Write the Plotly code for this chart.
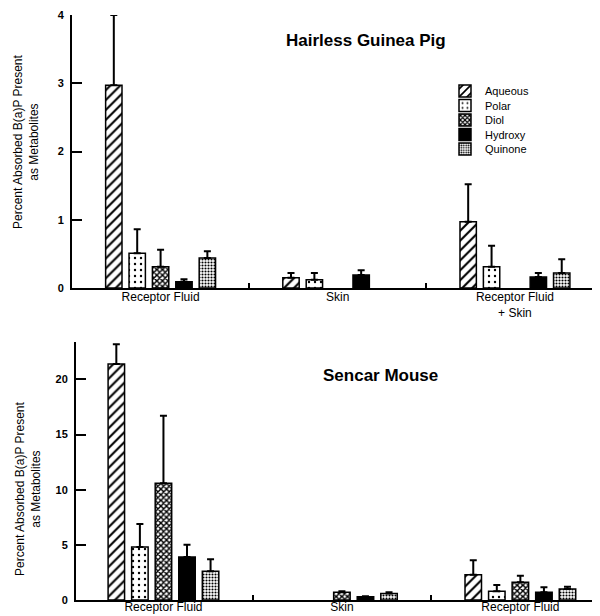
import plotly.graph_objects as go

# ---- data ----
categories = ["Receptor Fluid", "Skin", "Receptor Fluid<br>+ Skin"]
bottom_tick_labels = ["Receptor Fluid", "Skin", "Receptor Fluid"]
series_names = ["Aqueous", "Polar", "Diol", "Hydroxy", "Quinone"]

# Hairless Guinea Pig (mean, upper error)
gp_aqueous = [2.97, 0.15, 0.97]
gp_aqueous_sd = [1.03, 0.07, 0.55]
gp_polar = [0.51, 0.12, 0.31]
gp_polar_sd = [0.35, 0.10, 0.31]
gp_diol = [0.31, None, None]
gp_diol_sd = [0.25, 0, 0]
gp_hydroxy = [0.09, 0.19, 0.16]
gp_hydroxy_sd = [0.04, 0.07, 0.06]
gp_quinone = [0.44, None, 0.22]
gp_quinone_sd = [0.10, 0, 0.20]

# Sencar Mouse
m_aqueous = [21.4, None, 2.3]
m_aqueous_sd = [1.8, 0, 1.3]
m_polar = [4.8, None, 0.8]
m_polar_sd = [2.1, 0, 0.55]
m_diol = [10.6, 0.7, 1.6]
m_diol_sd = [6.1, 0.1, 0.6]
m_hydroxy = [3.9, 0.3, 0.7]
m_hydroxy_sd = [1.1, 0.05, 0.45]
m_quinone = [2.6, 0.6, 1.0]
m_quinone_sd = [1.1, 0.1, 0.2]

top_ticks = [0, 1, 2, 3, 4]
bottom_ticks = [0, 5, 10, 15, 20]

gp_vals = [gp_aqueous, gp_polar, gp_diol, gp_hydroxy, gp_quinone]
gp_sds = [gp_aqueous_sd, gp_polar_sd, gp_diol_sd, gp_hydroxy_sd, gp_quinone_sd]
m_vals = [m_aqueous, m_polar, m_diol, m_hydroxy, m_quinone]
m_sds = [m_aqueous_sd, m_polar_sd, m_diol_sd, m_hydroxy_sd, m_quinone_sd]

patterns = [
    dict(shape="/", size=7, solidity=0.3),
    dict(shape=".", size=6, solidity=0.12),
    dict(shape="x", size=4, solidity=0.6),
    None,
    dict(shape=".", size=3, solidity=0.4),
]

# page has an 8px body margin: work in a 592x608 figure
W, H, OFF = 592, 608, 8
def px(x):
    return (x - OFF) / W
def py(y):
    return (H + OFF - y) / H

legend_ids = ["legend", "legend2", "legend3", "legend4", "legend5"]
legend_centers = [91, 105.5, 120, 134.5, 149]

fig = go.Figure()

def add(vals, sds, xa, ya, show):
    for name, v, s, p, lid in zip(series_names, vals, sds, patterns, legend_ids):
        if p is None:
            marker = dict(color="black", line=dict(color="black", width=1.5))
        else:
            marker = dict(color="white", line=dict(color="black", width=1.5),
                          pattern=dict(fgcolor="black", bgcolor="white",
                                       fillmode="replace", **p))
        fig.add_trace(go.Bar(
            x=categories, y=v, name=name, marker=marker, cliponaxis=False,
            xaxis=xa, yaxis=ya, legendgroup=name, showlegend=show, legend=lid,
            error_y=dict(type="data", symmetric=False, array=s,
                         arrayminus=[0] * len(s), color="black",
                         thickness=2, width=3.5),
        ))

add(gp_vals, gp_sds, "x", "y", True)
add(m_vals, m_sds, "x2", "y2", False)

axis_common = dict(showline=True, linecolor="black", linewidth=2,
                   showgrid=False, zeroline=False, mirror=False)

layout = dict(
    width=W, height=H,
    margin=dict(l=0, r=0, t=0, b=0),
    paper_bgcolor="white", plot_bgcolor="white",
    barmode="group", bargap=0.34, bargroupgap=0.3,
    font=dict(family="Liberation Sans, Arial, sans-serif", color="black"),
    xaxis=dict(domain=[px(72), px(600)], range=[-0.5, 2.48], anchor="y",
               type="category", tickson="boundaries", ticks="inside",
               ticklen=5, tickwidth=2, tickcolor="black", ticklabelstandoff=-3,
               tickfont=dict(size=12), automargin=False, **axis_common),
    yaxis=dict(domain=[py(288), py(15)], range=[0, 4], anchor="x",
               tickvals=top_ticks, ticks="inside", ticklen=10, tickwidth=2,
               tickcolor="black", tickfont=dict(size=11, weight="bold"),
               ticklabelstandoff=4, automargin=False, **axis_common),
    xaxis2=dict(domain=[px(76), px(598)], range=[-0.49, 2.435], anchor="y2",
                type="category", tickson="boundaries", ticks="inside",
                tickmode="array", tickvals=categories, ticktext=bottom_tick_labels,
                ticklen=5, tickwidth=2, tickcolor="black", ticklabelstandoff=-5,
                tickfont=dict(size=12), automargin=False, **axis_common),
    yaxis2=dict(domain=[py(600), py(342)], range=[0, 23.4], anchor="x2",
                tickvals=bottom_ticks, ticks="inside", ticklen=10, tickwidth=2,
                tickcolor="black", tickfont=dict(size=11, weight="bold"),
                ticklabelstandoff=4, automargin=False, **axis_common),
)
for lid, yc in zip(legend_ids, legend_centers):
    layout[lid] = dict(x=px(445), y=py(yc), xanchor="left", yanchor="middle",
                       bgcolor="rgba(0,0,0,0)", font=dict(size=11),
                       itemwidth=30, tracegroupgap=0)
fig.update_layout(**layout)

ann = [
    dict(text="<b>Hairless Guinea Pig</b>", x=366, y=40, size=17, angle=0),
    dict(text="<b>Sencar Mouse</b>", x=380, y=375, size=17, angle=0),
    dict(text="Percent Absorbed B(a)P Present<br>as Metabolites", x=26, y=142, size=12, angle=-90),
    dict(text="Percent Absorbed B(a)P Present<br>as Metabolites", x=28, y=489, size=12, angle=-90),
]
for a in ann:
    fig.add_annotation(text=a["text"], x=px(a["x"]), y=py(a["y"]), xref="paper", yref="paper",
                       showarrow=False, textangle=a["angle"],
                       font=dict(size=a["size"], color="black"),
                       xanchor="center", yanchor="middle")

fig.write_html("out.html")
